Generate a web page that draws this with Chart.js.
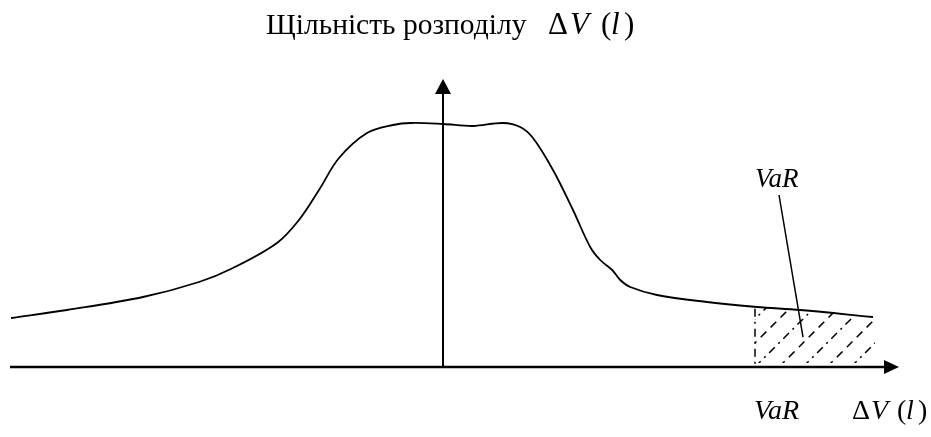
<!DOCTYPE html>
<html>
<head>
<meta charset="utf-8">
<script src="https://cdn.jsdelivr.net/npm/chart.js@4/dist/chart.umd.min.js"></script>
<style>
  body { margin: 0; background: #fff; }
  #wrap { width: 931px; height: 437px; }
</style>
</head>
<body>
<div id="wrap"><canvas id="chart" width="931" height="437"></canvas></div>
<script>
// ΔV(l) values (horizontal axis units) and density
const deltaV = [-10.8, -9.4, -7.5, -6.1, -5.25, -4.15, -3.6, -3.1, -2.6, -1.9, -1.25, -0.8, 0, 0.75, 1.5, 1.93, 2.25, 2.75, 3.25, 3.68, 3.93, 4.23, 4.43, 4.68, 5.35, 6.6, 7.85, 8.93, 10.75];
const density = [0.49, 0.57, 0.70, 0.85, 0.99, 1.24, 1.47, 1.77, 2.09, 2.34, 2.42, 2.44, 2.43, 2.41, 2.44, 2.40, 2.29, 1.97, 1.57, 1.20, 1.07, 0.97, 0.87, 0.80, 0.72, 0.65, 0.60, 0.57, 0.50];

// VaR tail region and leader line
const varFrom = 7.8;
const varTo = 10.8;
const leaderX = [8.4, 9.0];
const leaderY = [1.72, 0.30];

const titleText = "Щільність розподілу";
const axisLabel = [["Δ", false], ["V", true], ["(", false], ["l", true], [")", false]];

const serif = "'Liberation Serif', 'DejaVu Serif', serif";

// draws parts at given x offsets (math-style spacing)
function drawParts(ctx, parts, x, offsets, y, size) {
  parts.forEach(([txt, italic], i) => {
    ctx.font = (italic ? "italic " : "") + size + "px " + serif;
    ctx.fillText(txt, x + offsets[i], y);
  });
}

function curveAt(v) {
  for (let i = 0; i < deltaV.length - 1; i++) {
    if (v >= deltaV[i] && v <= deltaV[i + 1]) {
      const t = (v - deltaV[i]) / (deltaV[i + 1] - deltaV[i]);
      return density[i] + t * (density[i + 1] - density[i]);
    }
  }
  return density[density.length - 1];
}

const sketch = {
  id: "sketch",
  beforeDatasetsDraw(chart) {
    const { ctx } = chart;
    const xs = chart.scales.x, ys = chart.scales.y;
    const x0 = xs.getPixelForValue(0), y0 = ys.getPixelForValue(0);

    // hatched VaR area
    const xl = xs.getPixelForValue(varFrom), xr = xs.getPixelForValue(varTo);
    ctx.save();
    ctx.beginPath();
    ctx.moveTo(xl, y0 - 4);
    ctx.lineTo(xl, ys.getPixelForValue(curveAt(varFrom)));
    deltaV.forEach((v, i) => {
      if (v > varFrom && v < varTo) ctx.lineTo(xs.getPixelForValue(v), ys.getPixelForValue(density[i]));
    });
    ctx.lineTo(xr, ys.getPixelForValue(curveAt(varTo)));
    ctx.lineTo(xr, y0 - 4);
    ctx.closePath();
    ctx.clip();
    ctx.strokeStyle = "#000";
    ctx.lineWidth = 1.5;
    for (let k = 0, b = xl - 72; b < xr + 10; k++, b += 24) {
      ctx.setLineDash(k % 2 ? [8, 5, 2, 5] : [8, 6]);
      ctx.beginPath();
      ctx.moveTo(b, y0);
      ctx.lineTo(b + 100, y0 - 100);
      ctx.stroke();
    }
    ctx.restore();

    ctx.save();
    ctx.strokeStyle = "#000";
    ctx.lineWidth = 1.5;
    ctx.setLineDash([8, 5, 2, 5]);
    ctx.beginPath();
    ctx.moveTo(xl, ys.getPixelForValue(curveAt(varFrom)) + 2);
    ctx.lineTo(xl, y0 - 3);
    ctx.stroke();
    ctx.restore();

    // axes with arrows
    ctx.save();
    ctx.fillStyle = "#000";
    ctx.strokeStyle = "#000";
    const xTip = xs.getPixelForValue(11.4);
    ctx.lineWidth = 2.5;
    ctx.beginPath();
    ctx.moveTo(10, y0);
    ctx.lineTo(xTip - 14, y0);
    ctx.stroke();
    ctx.beginPath();
    ctx.moveTo(xTip, y0);
    ctx.lineTo(xTip - 15, y0 - 7);
    ctx.lineTo(xTip - 15, y0 + 7);
    ctx.closePath();
    ctx.fill();

    const yTip = ys.getPixelForValue(2.88);
    ctx.lineWidth = 2;
    ctx.beginPath();
    ctx.moveTo(x0, y0);
    ctx.lineTo(x0, yTip + 14);
    ctx.stroke();
    ctx.beginPath();
    ctx.moveTo(x0, yTip);
    ctx.lineTo(x0 - 8, yTip + 15);
    ctx.lineTo(x0 + 8, yTip + 15);
    ctx.closePath();
    ctx.fill();
    ctx.restore();
  },
  afterDraw(chart) {
    const { ctx } = chart;
    ctx.save();
    ctx.fillStyle = "#000";
    ctx.textBaseline = "alphabetic";
    ctx.font = "29.5px " + serif;
    ctx.fillText(titleText, 266, 34);
    drawParts(ctx, axisLabel, 548, [0, 22, 53, 63, 76], 34, 31);
    ctx.font = "italic 27px " + serif;
    ctx.fillText("VaR", 755, 187);
    ctx.font = "italic 28px " + serif;
    ctx.fillText("VaR", 754, 419);
    drawParts(ctx, axisLabel, 852, [0, 19, 45, 54, 66], 419, 28);
    ctx.restore();
  }
};

new Chart(document.getElementById("chart"), {
  type: "line",
  data: {
    datasets: [
      {
        label: "density",
        data: deltaV.map((v, i) => ({ x: v, y: density[i] })),
        borderColor: "#000",
        borderWidth: 1.8,
        pointRadius: 0,
        tension: 0.35,
        fill: false
      },
      {
        label: "VaR",
        data: leaderX.map((v, i) => ({ x: v, y: leaderY[i] })),
        borderColor: "#000",
        borderWidth: 1.5,
        pointRadius: 0,
        fill: false
      }
    ]
  },
  options: {
    responsive: false,
    animation: false,
    layout: { padding: 0 },
    plugins: { legend: { display: false }, tooltip: { enabled: false }, title: { display: false } },
    scales: {
      x: { type: "linear", min: -11.075, max: 12.2, display: false },
      y: { type: "linear", min: -0.7, max: 3.67, display: false }
    }
  },
  plugins: [sketch]
});
</script>
</body>
</html>
